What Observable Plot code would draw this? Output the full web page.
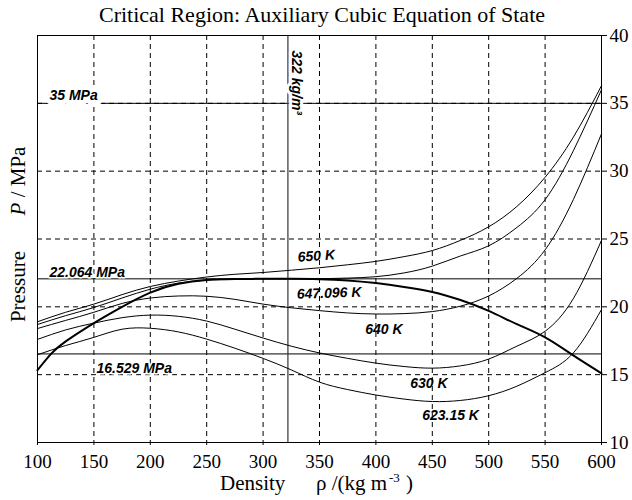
<!DOCTYPE html>
<html><head><meta charset="utf-8">
<script src="https://cdn.jsdelivr.net/npm/d3@7"></script>
<script src="https://cdn.jsdelivr.net/npm/@observablehq/plot@0.6"></script>
<style>body{margin:0;background:#fff}</style>
</head><body><div id="chart"></div>
<script>
// Density grid (kg/m^3)
const density = [100,125,150,175,200,225,250,275,300,325,350,375,400,425,450,475,500,525,550,575,600];
// Isotherm pressures (MPa)
const p650    = [18.9,19.6,20.2,20.9,21.5,21.9,22.2,22.4,22.53,22.7,22.88,23.1,23.35,23.7,24.15,24.9,25.9,27.4,29.55,32.5,36.3];
const p647096 = [18.7,19.35,19.95,20.65,21.3,21.75,21.97,22.04,22.064,22.064,22.07,22.12,22.22,22.5,23.0,23.75,24.5,25.85,27.9,31.5,36.0];
const p640    = [18.4,19.0,19.6,20.25,20.65,20.8,20.78,20.55,20.2,19.93,19.72,19.55,19.47,19.5,19.65,20.05,20.8,22.1,24.2,27.9,32.75];
const p630    = [17.6,18.3,18.8,19.2,19.39,19.3,18.95,18.35,17.7,17.1,16.6,16.2,15.85,15.6,15.48,15.65,16.15,17.1,18.2,20.6,24.9];
const p62315  = [16.47,17.15,17.75,18.35,18.42,18.15,17.62,16.95,16.2,15.35,14.45,13.9,13.5,13.2,13.02,13.1,13.45,14.15,15.15,16.6,19.8];
// Bold curve (own density grid, denser near the low-density end)
const densityThick = [100,112,125,150,175,200,225,250,275,300,325,350,375,400,425,450,475,500,525,550,575,600];
const pThick  = [15.33,16.53,17.45,18.8,20.0,21.05,21.7,21.98,22.05,22.064,22.064,22.04,21.95,21.75,21.47,21.1,20.5,19.7,18.72,17.75,16.42,15.1];

const thinSeries = [["650 K", p650], ["647.096 K", p647096], ["640 K", p640], ["630 K", p630], ["623.15 K", p62315]];
const thinRows = thinSeries.flatMap(([name, vals]) => density.map((d, i) => ({series: name, rho: d, p: vals[i]})));
const thickRows = densityThick.map((d, i) => ({rho: d, p: pThick[i]}));

// Axes / reference values
const xTicks = [100,150,200,250,300,350,400,450,500,550,600];
const yTicks = [10,15,20,25,30,35,40];
const xGrid = [150,200,250,300,350,400,450,500,550];
const yGrid = [15,20,25,30,35];
const refPressures = [35, 22.064, 16.529];
const refDensity = [322];

// Annotation labels
const isoLabels = ["650 K","647.096 K","640 K","630 K","623.15 K"];
const isoLabelRho = [331, 330, 390.5, 430.4, 441];
const isoLabelP = [23.32, 20.59, 18.0, 14.02, 11.66];
const isoLabelAngle = [-4, -2, 0, 0, 0];
const pLabels = ["22.064 MPa", "16.529 MPa"];
const pLabelRho = [110.6, 152.3];
const pLabelP = [22.21, 15.13];

const lab = (names, xs, ys, extra) => names.map((t, i) => ({t, x: xs[i], y: ys[i], a: extra ? extra[i] : 0}));
const annFont = {fontFamily: "Liberation Sans", fontWeight: "bold", fontStyle: "italic", fontSize: 14, textAnchor: "start", lineAnchor: "bottom", fill: "black"};
const serif = "Liberation Serif";

const chart = Plot.plot({
  width: 632, height: 500,
  marginTop: 35, marginBottom: 58, marginLeft: 37, marginRight: 31,
  style: {fontFamily: serif, fontSize: "19px", color: "black", background: "white"},
  x: {domain: [100, 600]},
  y: {domain: [10, 40]},
  marks: [
    Plot.gridX(xGrid, {stroke: "black", strokeOpacity: 1, strokeDasharray: "5,4"}),
    Plot.gridY(yGrid, {stroke: "black", strokeOpacity: 1, strokeDasharray: "5,4"}),
    Plot.ruleY(refPressures, {stroke: "black", strokeWidth: 1}),
    Plot.ruleX(refDensity, {stroke: "#333", strokeWidth: 1.2}),
    Plot.text(lab(["35 MPa"], [110.6], [35.24]), {x: "x", y: "y", text: "t", ...annFont, stroke: "white", strokeWidth: 10}),
    Plot.text(lab(["322 kg/m³"], [325.9], [38.9]), {x: "x", y: "y", text: "t", ...annFont, rotate: 90, stroke: "white", strokeWidth: 6}),
    Plot.text(lab(pLabels, pLabelRho, pLabelP), {x: "x", y: "y", text: "t", ...annFont, stroke: "white", strokeWidth: 3}),
    Plot.line(thinRows, {x: "rho", y: "p", z: "series", curve: "natural", stroke: "black", strokeWidth: 1}),
    Plot.line(thickRows, {x: "rho", y: "p", curve: "natural", stroke: "black", strokeWidth: 2}),
    Plot.text(lab(isoLabels, isoLabelRho, isoLabelP, isoLabelAngle), {x: "x", y: "y", text: "t", rotate: "a", ...annFont}),
    Plot.frame({stroke: "black", strokeWidth: 1}),
    Plot.axisX(xTicks, {anchor: "bottom", tickSize: 3, tickPadding: 9, label: null, fontSize: 19, fontFamily: serif}),
    Plot.axisY(yTicks, {anchor: "right", tickSize: 5, tickPadding: 3, label: null, fontSize: 19, fontFamily: serif})
  ]
});

const svg = d3.select(chart);
svg.append("text").attr("x", 322).attr("y", 22).attr("text-anchor", "middle").attr("font-family", serif)
  .attr("font-size", 22).attr("fill", "black").text("Critical Region: Auxiliary Cubic Equation of State");
svg.append("text").attr("transform", "translate(25,286.5) rotate(-90)").attr("text-anchor", "middle").attr("font-family", serif)
  .attr("font-size", 21).attr("fill", "black").text("Pressure");
const yl = svg.append("text").attr("transform", "translate(25,181) rotate(-90)").attr("text-anchor", "middle").attr("font-family", serif)
  .attr("font-size", 21).attr("fill", "black");
yl.append("tspan").attr("font-style", "italic").text("P");
yl.append("tspan").text(" / MPa");
const xl = svg.append("text").attr("y", 490).attr("font-size", 21).attr("text-anchor", "start").attr("font-family", serif).attr("fill", "black");
xl.append("tspan").attr("x", 220).text("Density");
xl.append("tspan").attr("x", 316).text("ρ /(kg m");
xl.append("tspan").attr("x", 389).attr("dy", -8).attr("font-size", 13).text("-3");
xl.append("tspan").attr("x", 406).attr("dy", 8).text(")");

document.getElementById("chart").appendChild(chart);
</script>
</body></html>
